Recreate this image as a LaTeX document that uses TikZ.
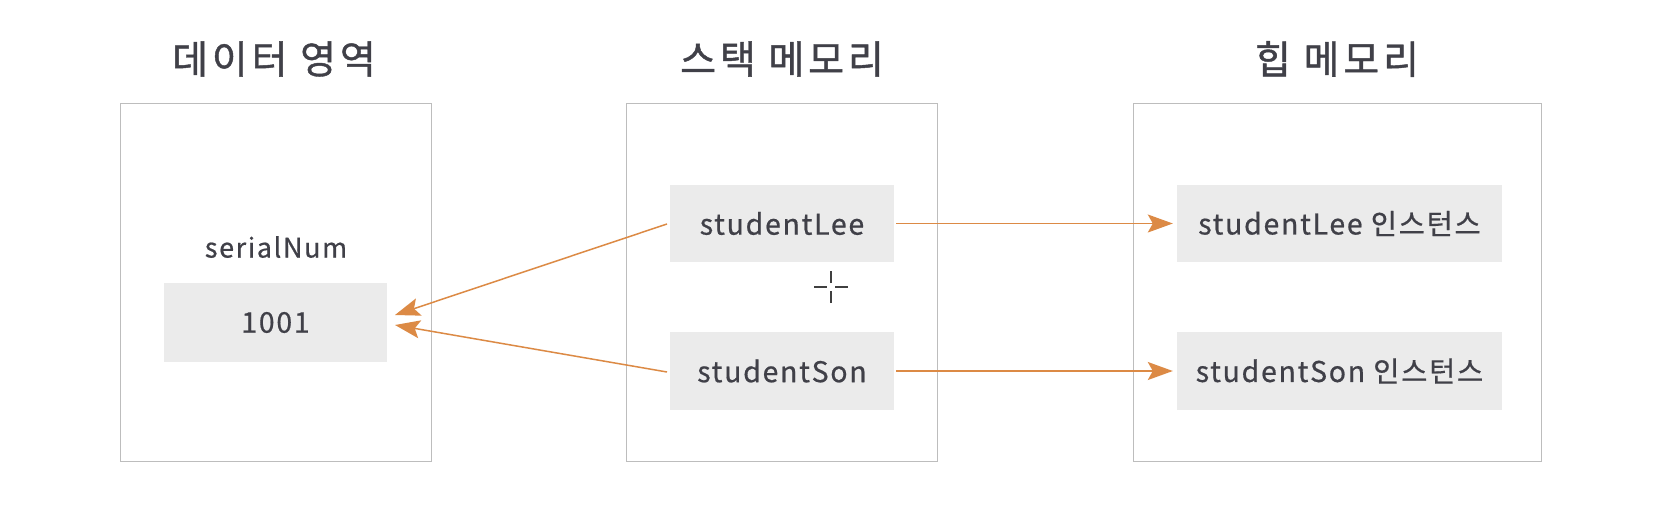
\documentclass[tikz,border=0pt]{standalone}
\usepackage{fontspec}
\setmainfont{Noto Sans CJK KR}
\newfontfamily\bodyfont{Noto Sans CJK KR}[LetterSpace=6, FakeBold=0.6]
\newfontfamily\headfont{Noto Sans CJK KR}[LetterSpace=10, FakeBold=1.1]
\usetikzlibrary{arrows.meta}
\definecolor{frame}{HTML}{BDBDBD}
\definecolor{cellfill}{HTML}{EBEBEB}
\definecolor{txt}{HTML}{404048}
\definecolor{arr}{HTML}{DC8A45}
\tikzset{
  area/.style={draw=frame, line width=1.5pt, fill=white},
  cell/.style={fill=cellfill, inner sep=0pt, text=txt, font=\bodyfont\fontsize{28.5}{32}\selectfont},
  title/.style={text=txt, font=\headfont\fontsize{39}{44}\selectfont, inner sep=0pt},
  lbl/.style={text=txt, font=\bodyfont\fontsize{27}{32}\selectfont, inner sep=0pt},
  ptr/.style={draw=arr, line width=1.5pt, -{Stealth[length=25pt,width=18pt,inset=5pt]}},
  cursor/.style={draw=black!75, line width=2pt}
}
\begin{document}
\begin{tikzpicture}[x=1pt,y=-1pt]
\useasboundingbox (0,0) rectangle (1668,528);
\fill[white] (0,0) rectangle (1668,528);
% areas
\node[area, minimum width=311pt, minimum height=358pt, inner sep=0pt] (data) at (276,282.5) {};
\node[area, minimum width=311pt, minimum height=358pt, inner sep=0pt] (stack) at (782,282.5) {};
\node[area, minimum width=408pt, minimum height=358pt, inner sep=0pt] (heap) at (1337.5,282.5) {};
% titles
\node[title] (t1) at (274,59) {데이터 영역};
\node[title] (t2) at (782,59) {스택 메모리};
\node[title] (t3) at (1337,59) {힙 메모리};
% data
\node[lbl] (sn) at (276,247) {serialNum};
\node[cell, minimum width=223pt, minimum height=79pt] (num) at (275.5,322.5) {1001};
% stack
\node[cell, minimum width=224pt, minimum height=77pt] (lee) at (782,223.5) {studentLee};
\node[cell, minimum width=224pt, minimum height=78pt] (son) at (782,371) {studentSon};
% heap
\node[cell, minimum width=325pt, minimum height=77pt] (ilee) at (1339.5,223.5) {studentLee 인스턴스};
\node[cell, minimum width=325pt, minimum height=78pt] (ison) at (1339.5,371) {studentSon 인스턴스};
% pointers
\coordinate (leeL) at (667,224);
\coordinate (sonL) at (667,372);
\coordinate (numA) at (395,315);
\coordinate (numB) at (395,325);
\draw[ptr] (leeL) -- (numA);
\draw[ptr] (sonL) -- (numB);
\draw[ptr] ([xshift=2pt]lee.east) -- ([xshift=-4pt]ilee.west);
\draw[ptr] ([xshift=2pt]son.east) -- ([xshift=-4pt]ison.west);
% cursor mark
\coordinate (cur) at (831,287);
\draw[cursor] ([xshift=-17pt]cur) -- ([xshift=-4pt]cur);
\draw[cursor] ([xshift=4pt]cur) -- ([xshift=17pt]cur);
\draw[cursor] ([yshift=-16pt]cur) -- ([yshift=-4pt]cur);
\draw[cursor] ([yshift=4pt]cur) -- ([yshift=16pt]cur);
\end{tikzpicture}
\end{document}
